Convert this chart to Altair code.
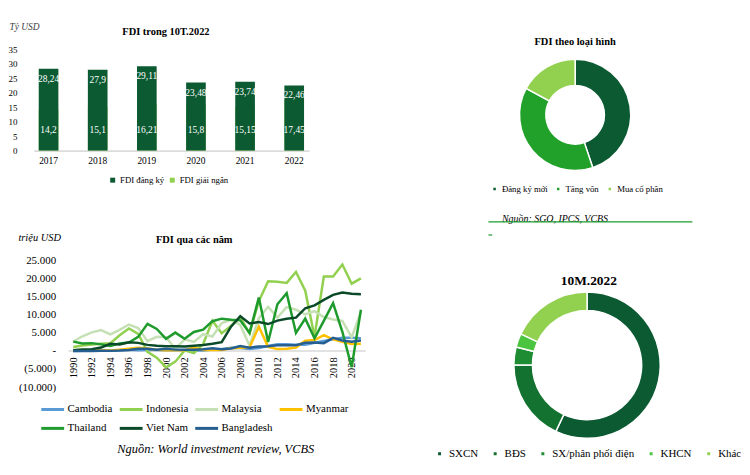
import altair as alt
import pandas as pd

SERIF = "Liberation Serif, Times New Roman, DejaVu Serif, serif"

# ---------------- data: FDI trong 10T.2022 ----------------
bar_years = ["2017", "2018", "2019", "2020", "2021", "2022"]
fdi_dang_ky = [28.24, 27.9, 29.11, 23.48, 23.74, 22.46]
fdi_giai_ngan = [14.2, 15.1, 16.21, 15.8, 15.15, 17.45]
bar_series = ["FDI đăng ký", "FDI giải ngân"]
bar_colors = ["#0B5A32", "#92D050"]
bar_ticks = [0, 5, 10, 15, 20, 25, 30, 35]
bar_title = ["FDI trong 10T.2022"]

# ---------------- data: FDI qua các năm ----------------
line_years = list(range(1990, 2022))
cambodia = [0, 10, 33, 54, 69, 151, 294, 168, 243, 230, 149, 149, 145, 84, 131, 381,
            483, 867, 815, 539, 783, 1372, 1835, 1872, 1720, 1701, 2280, 2732, 3213, 3663, 3625, 3483]
indonesia = [1093, 1482, 1777, 2004, 2109, 4346, 6194, 4677, -241, -1866, -4550, -2977, 145, -597, 1896, 8336,
             4914, 6928, 9318, 4877, 13771, 19241, 19138, 18817, 21811, 16641, 3921, 20579, 20563, 23883, 18591, 20081]
malaysia = [2611, 4044, 5138, 5741, 4581, 5815, 7297, 6324, 2714, 3895, 3788, 554, 3203, 2473, 4624, 3966,
            7691, 8595, 7172, 1453, 9060, 12198, 9239, 12115, 11400, 10082, 11000, 9368, 8700, 8300, 3760, 10800]
myanmar = [163, 238, 171, 149, 91, 318, 581, 879, 684, 304, 208, 192, 191, 900, 251, 236,
           276, 710, 863, 973, 6669, 1118, 497, 584, 946, 2824, 2989, 4341, 3200, 2500, 1900, 2000]
thailand = [2575, 2049, 2151, 1807, 1369, 2070, 2338, 3882, 7491, 6091, 3350, 5061, 3335, 5235, 5862, 8216,
            8918, 8633, 8455, 4976, 14747, 2474, 12899, 15936, 4975, 8928, 3486, 8285, 13186, 5300, -4500, 11400]
viet_nam = [180, 375, 474, 926, 1944, 1780, 2395, 2220, 1671, 1412, 1298, 1300, 1200, 1450, 1610, 1954,
            2400, 6700, 9579, 7600, 8000, 7430, 8368, 8900, 9200, 11800, 12600, 14100, 15500, 16120, 15800, 15660]
bangladesh = [3, 1, 4, 14, 11, 92, 231, 575, 576, 309, 579, 355, 328, 350, 460, 761,
              456, 651, 1328, 901, 1232, 1265, 1584, 1599, 1551, 2235, 2333, 2152, 3613, 2874, 2564, 2896]
countries = ["Cambodia", "Indonesia", "Malaysia", "Myanmar", "Thailand", "Viet Nam", "Bangladesh"]
country_series = [cambodia, indonesia, malaysia, myanmar, thailand, viet_nam, bangladesh]
country_colors = ["#5B9BD5", "#92D050", "#C5E0B4", "#FFC000", "#1E9B2C", "#0B4A28", "#255E91"]
line_tick_years = list(range(1990, 2021, 2))
line_y_ticks = [-10000, -5000, 0, 5000, 10000, 15000, 20000, 25000]
line_source = ["Nguồn: World investment review, VCBS"]

# ---------------- data: FDI theo loại hình ----------------
type_labels = ["Đăng ký mới", "Tăng vốn", "Mua cổ phần"]
type_values = [10.08, 8.53, 3.85]
type_colors = ["#0B5A32", "#22A12A", "#92D050"]
type_title = ["FDI theo loại hình"]
type_source = ["Nguồn: SGO, IPCS, VCBS"]

# ---------------- data: 10M.2022 ----------------
sector_labels = ["SXCN", "BĐS", "SX/phân phối điện", "KHCN", "Khác"]
sector_values = [57, 18, 4, 3, 18]
sector_colors = ["#0B5A32", "#13722F", "#1E8C33", "#4BC540", "#92D050"]
sector_title = ["10M.2022"]


def text_layer(texts, x, y, size, weight="normal", style="normal", align="center"):
    return alt.Chart(pd.DataFrame({"t": texts})).mark_text(
        align=align, baseline="middle", fontSize=size, fontWeight=weight, fontStyle=style,
        font=SERIF, color="#000"
    ).encode(text="t:N", x=alt.value(x), y=alt.value(y))


# ================= bar chart =================
bar_df = pd.DataFrame({
    "year": bar_years * 2,
    "series": [bar_series[0]] * len(bar_years) + [bar_series[1]] * len(bar_years),
    "value": fdi_dang_ky + fdi_giai_ngan,
})
bar_df["label"] = bar_df["value"].map(lambda v: f"{v:g}".replace(".", ","))

bx = alt.X("year:N", sort=bar_years,
           scale=alt.Scale(paddingInner=0.6, paddingOuter=0.1),
           axis=alt.Axis(title=None, labelAngle=0, domainColor="#bfbfbf", ticks=False, tickSize=0,
                         labelPadding=5, labelFontSize=9.5, labelColor="#000", grid=False,
                         labelOverlap=False, labelFont=SERIF))
by_axis = alt.Axis(values=bar_ticks, tickCount=40, grid=False, domain=False, ticks=False, tickSize=0,
                   labelPadding=17, labelFontSize=9, labelColor="#000", labelOverlap=False, labelFont=SERIF,
                   title="Tỷ USD", titleAngle=0, titleX=-25, titleY=-23, titleAlign="left",
                   titleBaseline="middle", titleFontStyle="italic", titleFontWeight="normal",
                   titleFontSize=9.5, titleColor="#404040", titleFont=SERIF)
by_scale = alt.Scale(domain=[0, 35], nice=False)

bars = alt.Chart(bar_df).mark_bar().encode(
    x=bx,
    y=alt.Y("value:Q", scale=by_scale, axis=by_axis, stack=None),
    color=alt.Color("series:N", scale=alt.Scale(domain=bar_series, range=bar_colors),
                    legend=alt.Legend(title=None, orient="none", legendX=75, legendY=127,
                                      direction="horizontal", symbolType="square", symbolSize=25,
                                      labelFontSize=8.8, labelOffset=3, columnPadding=3,
                                      labelFont=SERIF, labelColor="#000")),
    order=alt.Order("series:N"),
)
top_labels = alt.Chart(bar_df).transform_filter(
    alt.datum.series == bar_series[0]
).mark_text(color="white", fontSize=9.5, font=SERIF, baseline="middle", dy=10).encode(
    x=bx, y=alt.Y("value:Q", scale=by_scale, axis=by_axis), text="label:N")
base_labels = alt.Chart(bar_df).transform_filter(
    alt.datum.series == bar_series[1]
).mark_text(color="white", fontSize=9.5, font=SERIF, baseline="middle", dy=-21).encode(
    x=bx, y=alt.datum(0), text="label:N")

bar_chart = alt.layer(
    bars, top_labels, base_labels, text_layer(bar_title, 133, -17.5, 10.5, weight="bold")
).properties(width=277, height=102)

# ================= line chart =================
rows = []
for c, vals in zip(countries, country_series):
    for yr, v in zip(line_years, vals):
        rows.append({"year": yr, "country": c, "value": v})
line_df = pd.DataFrame(rows)

lx = alt.X("year:Q", scale=alt.Scale(domain=[1989.5, 2021.5], range=[35, 334], nice=False, zero=False),
           axis=alt.Axis(values=line_tick_years, tickCount=60, format="d", labelAngle=270, domain=False,
                         ticks=False, tickSize=0, grid=False, labelPadding=6, offset=-36.4, title=None,
                         labelFontSize=10.5, labelColor="#000", labelOverlap=False, labelFont=SERIF))
label_expr = ("datum.value == 0 ? '-' : (datum.value < 0 ? '(' + replace(format(-datum.value, ','), ',', '.') + ')'"
              " : replace(format(datum.value, ','), ',', '.'))")
ly = alt.Y("value:Q", scale=alt.Scale(domain=[-10000, 25000], nice=False),
           axis=alt.Axis(values=line_y_ticks, tickCount=40, labelExpr=label_expr, grid=False, domain=False,
                         ticks=False, tickSize=0, offset=-26, labelPadding=4, labelFontSize=11,
                         labelColor="#000", labelOverlap=False, labelFont=SERIF,
                         title="triệu USD", titleAngle=0, titleX=-42, titleY=-22.7, titleAlign="left",
                         titleBaseline="middle", titleFontStyle="italic", titleFontWeight="normal",
                         titleFontSize=10.5, titleColor="#000", titleFont=SERIF))

zero_rule = alt.Chart(pd.DataFrame({"z": [0]})).mark_rule(color="#d9d9d9", strokeWidth=1.5).encode(
    x=alt.datum(1989.5), x2=alt.datum(2021.5), y=alt.datum(0))
lines = alt.Chart(line_df).mark_line(strokeWidth=2.5).encode(
    x=lx, y=ly,
    color=alt.Color("country:N", scale=alt.Scale(domain=countries, range=country_colors),
                    legend=alt.Legend(title=None, orient="none", legendX=6, legendY=137,
                                      direction="horizontal", columns=4, symbolType="stroke",
                                      symbolSize=529, symbolStrokeWidth=3, labelFontSize=11,
                                      labelOffset=2, columnPadding=0, rowPadding=0,
                                      labelFont=SERIF, labelColor="#000", labelLimit=200)),
)
line_src = text_layer(line_source, 84, 189.3, 12.5, style="italic", align="left")

line_chart = alt.layer(zero_rule, lines, line_src).properties(
    width=334, height=127.4,
    title=alt.TitleParams("FDI qua các năm", font=SERIF, fontSize=10.5, fontWeight="bold",
                          anchor="middle", dx=-5.5, offset=-12.75, color="#000"),
)

# ================= donut 1 =================
d1_df = pd.DataFrame({"type": type_labels, "value": type_values, "idx": list(range(len(type_labels)))})
d1_arc = alt.Chart(d1_df).mark_arc(innerRadius=29.5, outerRadius=56, stroke="white", strokeWidth=1.5).encode(
    theta=alt.Theta("value:Q", stack=True),
    color=alt.Color("type:N", scale=alt.Scale(domain=type_labels, range=type_colors),
                    legend=alt.Legend(title=None, orient="none", legendX=19.5, legendY=136,
                                      direction="horizontal", symbolType="square", symbolSize=16,
                                      labelFontSize=8.8, labelOffset=3, columnPadding=5,
                                      labelFont=SERIF, labelColor="#000")),
    order=alt.Order("idx:Q"),
    x=alt.value(105), y=alt.value(66),
)
d1_line = alt.Chart(pd.DataFrame({"z": [0]})).mark_rule(color="#1E9B2C", strokeWidth=1.2).encode(
    x=alt.value(17.7), x2=alt.value(223), y=alt.value(173.7))
d1_dash = alt.Chart(pd.DataFrame({"z": [0]})).mark_rule(color="#1E9B2C", strokeWidth=1.2).encode(
    x=alt.value(17.7), x2=alt.value(21.5), y=alt.value(187))

d1_chart = alt.layer(
    d1_arc,
    text_layer(type_title, 105, -7.5, 10.5, weight="bold"),
    text_layer(type_source, 31.3, 171, 10, style="italic", align="left"),
    d1_line, d1_dash,
).properties(width=210, height=102)

# ================= donut 2 =================
d2_df = pd.DataFrame({"sector": sector_labels, "value": sector_values, "idx": list(range(len(sector_labels)))})
d2_arc = alt.Chart(d2_df).mark_arc(innerRadius=55, outerRadius=73.7, stroke="white", strokeWidth=1.5).encode(
    theta=alt.Theta("value:Q", stack=True),
    color=alt.Color("sector:N", scale=alt.Scale(domain=sector_labels, range=sector_colors),
                    legend=alt.Legend(title=None, orient="none", legendX=-37, legendY=189,
                                      direction="horizontal", symbolType="square", symbolSize=20,
                                      labelFontSize=11, labelOffset=4, columnPadding=11,
                                      labelFont=SERIF, labelColor="#000", labelLimit=200)),
    order=alt.Order("idx:Q"),
    x=alt.value(117), y=alt.value(105.3),
)
d2_chart = alt.layer(
    d2_arc, text_layer(sector_title, 118.8, 21, 13.5, weight="bold")
).properties(width=234, height=127.4)

chart = alt.concat(
    bar_chart, d1_chart, line_chart, d2_chart,
    columns=2, spacing=alt.RowColnumber(row=110.7, column=106), align="none", bounds="flush",
).resolve_scale(
    color="independent", x="independent", y="independent", theta="independent"
).properties(
    padding={"left": 0, "top": 12, "right": 0, "bottom": 0}, background="white"
).configure(font=SERIF).configure_view(stroke=None)

chart.save("out.html", embed_options={"renderer": "svg", "actions": False})
